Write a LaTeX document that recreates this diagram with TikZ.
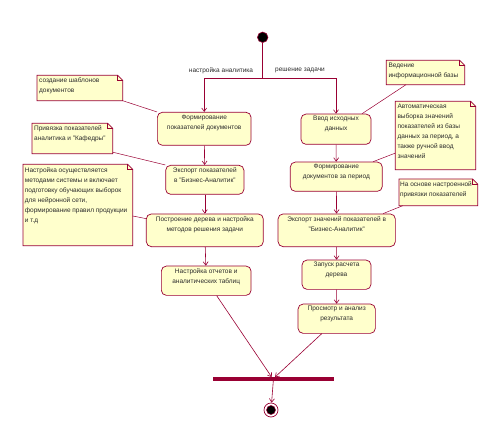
\documentclass[tikz,border=0pt]{standalone}
\usepackage{fontspec}
\setmainfont{Liberation Sans}
\usetikzlibrary{arrows.meta,calc}
\definecolor{rl}{HTML}{990033}
\definecolor{ny}{HTML}{FFFFCC}
\definecolor{tx}{HTML}{2B2B2B}
\newcommand{\notebody}[1]{%
  \filldraw[fill=ny,draw=rl,line width=0.7pt] (#1.north west) -- ([xshift=-5pt]#1.north east) -- ([yshift=-5pt]#1.north east) -- (#1.south east) -- (#1.south west) -- cycle;
  \draw[rl,line width=0.5pt] ([xshift=-5pt]#1.north east) -- ([xshift=-5pt,yshift=-5pt]#1.north east) -- ([yshift=-5pt]#1.north east);}
\begin{document}
\begin{tikzpicture}[x=1pt,y=-1pt,
 actbox/.style={draw=rl,fill=ny,line width=0.7pt,rounded corners=5pt,inner sep=0},
 acttext/.style={font=\fontsize{6.5}{10}\selectfont,text=tx,align=center,inner sep=0,anchor=north},
 notebox/.style={inner sep=0,anchor=north west},
 notetext/.style={font=\fontsize{6.5}{10}\selectfont,text=tx,align=left,inner sep=0,anchor=north west},
 lbl/.style={font=\fontsize{6.5}{10}\selectfont,text=tx,inner sep=0},
 flow/.style={draw=rl,line width=0.6pt,-{Straight Barb[length=3.5pt,width=5pt]}},
 link/.style={draw=rl,line width=0.5pt}
]
\useasboundingbox (0,0) rectangle (502,443);

% notes
\node[notebox,minimum width=85.3pt,minimum height=25pt] (n1) at (37,75.3) {};
\node[notebox,minimum width=80.3pt,minimum height=30pt] (n2) at (32,123.3) {};
\node[notebox,minimum width=109.3pt,minimum height=81pt] (n3) at (23,164.3) {};
\node[notebox,minimum width=78pt,minimum height=24pt] (n4) at (386.3,60.3) {};
\node[notebox,minimum width=80pt,minimum height=68pt] (n5) at (395.3,101.3) {};
\node[notebox,minimum width=78.3pt,minimum height=26.3pt] (n6) at (399,179) {};
\notebody{n1}\notebody{n2}\notebody{n3}\notebody{n4}\notebody{n5}\notebody{n6}
\node[notetext] (nt1) at ([xshift=2pt,yshift=-2.5pt]n1.north west) {создание шаблонов\\документов};
\node[notetext] (nt2) at ([xshift=2pt,yshift=-2.5pt]n2.north west) {Привязка показателей\\аналитика и "Кафедры"};
\node[notetext] (nt3) at ([xshift=1.7pt,yshift=-3pt]n3.north west) {Настройка осуществляется\\методами системы и включает\\подготовку обучающих выборок\\для нейронной сети,\\формирование правил продукции\\и т.д};
\node[notetext] (nt4) at ([xshift=2pt,yshift=-2.5pt]n4.north west) {Ведение\\информационной базы};
\node[notetext] (nt5) at ([xshift=2pt,yshift=-2.5pt]n5.north west) {Автоматическая\\выборка значений\\показателей из базы\\данных за период, а\\также ручной ввод\\значений};
\node[notetext] (nt6) at ([xshift=1pt,yshift=-2.5pt]n6.north west) {На основе настроенной\\привязки показателей};

% activity boxes
\node[actbox,minimum width=93.7pt,minimum height=33pt] (b1) at (204.2,128.8) {};
\node[actbox,minimum width=78.3pt,minimum height=29pt] (b2) at (204.8,179.8) {};
\node[actbox,minimum width=117pt,minimum height=32.7pt] (b3) at (204.8,230.3) {};
\node[actbox,minimum width=89.7pt,minimum height=29.3pt] (b4) at (206.2,280.7) {};
\node[actbox,minimum width=70pt,minimum height=30.3pt] (b5) at (336,129.2) {};
\node[actbox,minimum width=92pt,minimum height=29.3pt] (b6) at (336.3,176.7) {};
\node[actbox,minimum width=117.3pt,minimum height=32.7pt] (b7) at (336.7,230.3) {};
\node[actbox,minimum width=69pt,minimum height=29.3pt] (b8) at (336.5,274.7) {};
\node[actbox,minimum width=77.3pt,minimum height=29.3pt] (b9) at (336.7,318.7) {};
\node[acttext] (t1) at ([yshift=-3pt]b1.north) {Формирование\\показателей документов};
\node[acttext] (t2) at ([yshift=-3pt]b2.north) {Экспорт показателей\\в "Бизнес-Аналитик"};
\node[acttext] (t3) at ([yshift=-2.5pt]b3.north) {Построение дерева и настройка\\методов решения задачи};
\node[acttext] (t4) at ([yshift=-2.5pt]b4.north) {Настройка отчетов и\\аналитических таблиц};
\node[acttext] (t5) at ([yshift=-2.5pt]b5.north) {Ввод исходных\\данных};
\node[acttext] (t6) at ([yshift=-2.5pt]b6.north) {Формирование\\документов за период};
\node[acttext] (t7) at ([yshift=-2.5pt]b7.north) {Экспорт значений показателей в\\"Бизнес-Аналитик"};
\node[acttext] (t8) at ([yshift=-2.5pt]b8.north) {Запуск расчета\\дерева};
\node[acttext] (t9) at ([yshift=-2.5pt]b9.north) {Просмотр и анализ\\результата};

% start, bar, end
\node[circle,fill=black,draw=rl,line width=0.6pt,minimum size=10.5pt,inner sep=0] (start) at (262.7,37.3) {};
\coordinate (fork) at (262.7,78.3);
\node[fill=rl,minimum width=121.3pt,minimum height=3.4pt,inner sep=0] (bar) at (273.3,379) {};
\node[circle,draw=rl,fill=white,line width=0.7pt,minimum size=14pt,inner sep=0] (fin) at (271,410) {};
\node[circle,fill=black,draw=rl,line width=0.5pt,minimum size=9pt,inner sep=0] (finin) at (fin) {};

% labels
\node[lbl,anchor=east] (lab1) at (253.3,70.3) {настройка аналитика};
\node[lbl,anchor=west] (lab2) at (275,70.3) {решение задачи};

% flows
\draw[link,line width=0.6pt] (start) -- (fork);
\draw[flow] (fork) -| (b1);
\draw[flow] (fork) -| (b5);
\draw[flow] (b1) -- (b2);
\draw[flow] (b2) -- (b3);
\draw[flow] (b3) -- (b4);
\draw[flow] (b5) -- (b6);
\draw[flow] (b6) -- (b7);
\draw[flow] (b7) -- (b8);
\draw[flow] (b8) -- (b9);
\draw[flow] ([xshift=10.5pt]b4.south) -- ([xshift=-1.6pt]bar.north);
\draw[flow] ([xshift=-15pt]b9.south) -- ([xshift=1.7pt]bar.north);
\draw[flow] (bar.south) -- (fin);

% note links
\draw[link] (n1.south east) -- (b1.north west);
\draw[link] ([yshift=1.5pt]n2.south east) -- (b2.north west);
\draw[link] ([yshift=-51.7pt]n3.north east) -- ([yshift=-5pt]b3.north west);
\draw[link] ([xshift=19.7pt]n4.south west) -- ([xshift=-9.3pt]b5.north east);
\draw[link] ([yshift=16.6pt]n5.south west) -- ([xshift=-9.6pt]b6.north east);
\draw[link] ([xshift=3.7pt]n6.south west) -- ([xshift=-12.6pt]b7.north east);
\end{tikzpicture}
\end{document}
